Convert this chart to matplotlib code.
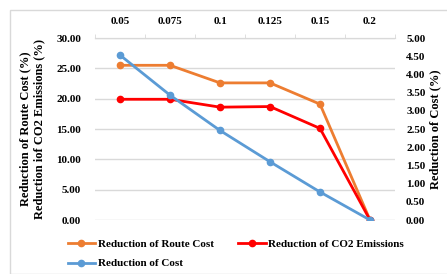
import matplotlib.pyplot as plt
from matplotlib.patches import Rectangle

categories = ["0.05", "0.075", "0.1", "0.125", "0.15", "0.2"]
route_cost = [25.5, 25.5, 22.6, 22.6, 19.1, 0.0]
co2 = [19.9, 19.9, 18.6, 18.7, 15.1, 0.0]
cost = [4.53, 3.43, 2.46, 1.60, 0.77, 0.0]

plt.rcParams['font.family'] = 'Liberation Serif'
plt.rcParams['font.weight'] = 'bold'

fig = plt.figure(figsize=(4.47, 2.74), dpi=100)
fig.patches.append(Rectangle((10/447, 0), 1, 1 - 10/274, transform=fig.transFigure,
                             fill=False, edgecolor='#d9d9d9', lw=1))
ax = fig.add_axes([95/447, 1 - 220/274, 300/447, 182/274])
ax2 = ax.twinx()

x = range(len(categories))
l1, = ax.plot(x, route_cost, color='#ed7d31', lw=2, marker='o', ms=4.5, label='Reduction of Route Cost')
l2, = ax.plot(x, co2, color='#ff0000', lw=2, marker='o', ms=4.5, label='Reduction of CO2 Emissions')
l3, = ax2.plot(x, cost, color='#5b9bd5', lw=2, marker='o', ms=4.5, label='Reduction of Cost')

ax.set_xlim(-0.5, len(categories) - 0.5)
ax.set_ylim(0, 30)
ax.set_yticks(range(0, 31, 5))
ax.set_yticklabels([f"{v:.2f}" for v in range(0, 31, 5)])
ax2.set_ylim(0, 5)
ax2.set_yticks([i * 0.5 for i in range(11)])
ax2.set_yticklabels([f"{i*0.5:.2f}" for i in range(11)])

ax.grid(axis='y', color='#d9d9d9', lw=1)
ax.set_axisbelow(True)
ax.xaxis.tick_top()
ax.set_xticks(list(x))
ax.set_xticklabels(categories)
ax.set_xticks([i + 0.5 for i in range(-1, len(categories))], minor=True)
ax.tick_params(axis='x', which='major', length=0, labelsize=8, pad=9)
ax.tick_params(axis='x', which='minor', length=3, color='#d9d9d9', top=True, bottom=False)
ax.tick_params(axis='y', length=0, labelsize=8, pad=10)
ax2.tick_params(axis='y', length=0, labelsize=8, pad=8)

for a in (ax, ax2):
    for s in ['left', 'right', 'bottom']:
        a.spines[s].set_visible(False)
    a.spines['top'].set_color('#d9d9d9')

ax.set_ylabel("Reduction of Route Cost (%)\nReduction iof CO2 Emissions (%)",
              fontsize=9, fontweight='bold', labelpad=8)
ax2.set_ylabel("Reduction of Cost (%)", fontsize=9, fontweight='bold', labelpad=3)

fig.legend(handles=[l1, l3, l2], loc='lower left', bbox_to_anchor=(62/447, 0.0),
           ncol=2, frameon=False, fontsize=8, handlelength=2.5, handletextpad=0.2,
           columnspacing=2.2, labelspacing=0.9, borderaxespad=0.1)

fig.savefig("out.png", dpi=100)
